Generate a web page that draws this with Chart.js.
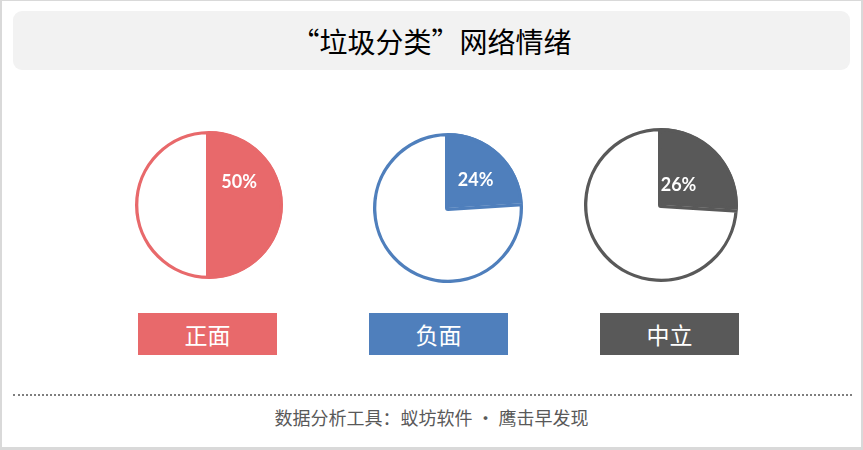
<!DOCTYPE html>
<html>
<head>
<meta charset="utf-8">
<script src="https://cdn.jsdelivr.net/npm/chart.js@4.4.1/dist/chart.umd.min.js"></script>
<style>
  html, body { margin: 0; padding: 0; background: #fff; }
  #frame { position: relative; width: 863px; height: 450px; box-sizing: border-box;
    border: 2px solid #d9d9d9; border-top-width: 1px; border-bottom-width: 3px; background: #fff;
    font-family: "Noto Sans CJK SC", "Noto Sans", sans-serif; overflow: hidden; }
  #titleBox { position: absolute; left: 11px; top: 10px; width: 837px; height: 59px;
    background: #f2f2f2; border-radius: 9px; display: flex; align-items: center; justify-content: center;
    font-size: 28px; color: #000; }
  .pie { position: absolute; }
  .tag { position: absolute; top: 312px; width: 139px; height: 42px; color: #fff; font-size: 23px;
    display: flex; align-items: center; justify-content: center; }
  #dots { position: absolute; left: 11px; top: 393px; width: 839px; height: 0;
    border-top: 2px dotted #7f7f7f; }
  #footer { position: absolute; left: 0; top: 403px; width: 859px; text-align: center;
    font-size: 18px; color: #595959; }
</style>
</head>
<body>
<div id="frame">
  <div id="titleBox"></div>
  <canvas id="pie0" class="pie"></canvas>
  <canvas id="pie1" class="pie"></canvas>
  <canvas id="pie2" class="pie"></canvas>
  <div id="tag0" class="tag"></div>
  <div id="tag1" class="tag"></div>
  <div id="tag2" class="tag"></div>
  <div id="dots"></div>
  <div id="footer"></div>
</div>
<script>
const titleText = "“垃圾分类”网络情绪";
const footerText = "数据分析工具：蚁坊软件 · 鹰击早发现";
const categories = ["正面", "负面", "中立"];
const shareValues = [50, 24, 26];          // percent of each sentiment
const colors = ["#e8696b", "#4f7fbc", "#595959"];
// pie canvas layout and label placement (angle from top in deg, fraction of radius)
const pieSize = [152, 154, 158];
const pieLeft = [131, 369, 580];
const pieTop = [128, 130, 125];
const tagLeft = [136, 367, 598];
const labelAngle = [53, 45, 42];
const labelRadius = [0.51, 0.52, 0.34];

document.getElementById('titleBox').textContent = titleText;
document.getElementById('footer').textContent = footerText;

const labelPlugin = {
  id: 'pctLabel',
  afterDatasetsDraw(chart, args, opts) {
    const arc = chart.getDatasetMeta(0).data[0];
    if (!arc) return;
    const ctx = chart.ctx;
    const a = (opts.angle - 90) * Math.PI / 180;
    const r = arc.outerRadius * opts.radius;
    const x = arc.x + Math.cos(a) * r;
    const y = arc.y + Math.sin(a) * r;
    ctx.save();
    ctx.fillStyle = '#ffffff';
    ctx.font = 'bold 18px Lato, "Liberation Sans", sans-serif';
    ctx.textAlign = 'center';
    ctx.textBaseline = 'middle';
    ctx.fillText(chart.data.datasets[0].data[0] + '%', x, y);
    ctx.restore();
  }
};

categories.forEach((cat, i) => {
  const cv = document.getElementById('pie' + i);
  cv.width = pieSize[i];
  cv.height = pieSize[i];
  cv.style.left = pieLeft[i] + 'px';
  cv.style.top = pieTop[i] + 'px';
  const tag = document.getElementById('tag' + i);
  tag.textContent = cat;
  tag.style.left = tagLeft[i] + 'px';
  tag.style.background = colors[i];
  new Chart(cv, {
    type: 'pie',
    data: {
      labels: [cat, ''],
      datasets: [{
        data: [shareValues[i], 100 - shareValues[i]],
        backgroundColor: [colors[i], '#ffffff'],
        borderColor: colors[i],
        borderWidth: 3,
        borderAlign: 'inner'
      }]
    },
    options: {
      responsive: false,
      animation: false,
      events: [],
      layout: { padding: 2 },
      plugins: {
        legend: { display: false },
        tooltip: { enabled: false },
        pctLabel: { angle: labelAngle[i], radius: labelRadius[i] }
      }
    },
    plugins: [labelPlugin]
  });
});
</script>
</body>
</html>
